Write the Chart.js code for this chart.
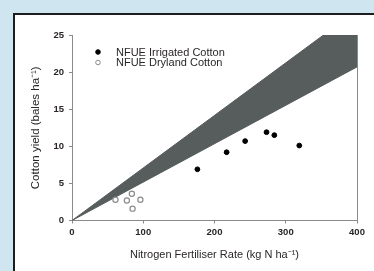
<!DOCTYPE html>
<html>
<head>
<meta charset="utf-8">
<script src="https://cdn.jsdelivr.net/npm/chart.js@4/dist/chart.umd.min.js"></script>
<style>
  body { margin: 0; background: #cfe6f1; width: 374px; height: 271px; overflow: hidden; position: relative; }
  .panel { position: absolute; left: 13px; top: 13px; width: 400px; height: 300px; background: #fff; border: 2px solid #1c1c1c; }
  #chart { position: absolute; left: 0; top: 0; }
</style>
</head>
<body>
<div class="panel"></div>
<canvas id="chart" width="374" height="271"></canvas>
<script>
// Chart data
const xTicks = [0, 100, 200, 300, 400];
const yTicks = [0, 5, 10, 15, 20, 25];

const irrigatedN = [176, 217, 243, 273, 284, 319];
const irrigatedYield = [6.9, 9.2, 10.7, 11.9, 11.5, 10.1];

const drylandN = [61, 77, 84, 85, 96];
const drylandYield = [2.8, 2.7, 3.6, 1.6, 2.8];

// NFUE band edges
const bandUpperN = [0, 353, 400];
const bandUpperYield = [0, 25, 25];
const bandLowerN = [0, 400];
const bandLowerYield = [0, 20.7];

const legendLabels = ['NFUE Irrigated Cotton', 'NFUE Dryland Cotton'];

const toPoints = (xs, ys) => xs.map((x, i) => ({ x: x, y: ys[i] }));

const FONT = "'Liberation Sans', Arial, sans-serif";
const AXIS_COLOR = '#8a8a8a';
const TEXT_COLOR = '#2a2626';

// legend drawn inside the plot, top left
const insideLegend = {
  id: 'insideLegend',
  afterDraw(chart) {
    const { ctx, chartArea } = chart;
    const x = chartArea.left + 26;
    const y = chartArea.top + 17;
    ctx.save();
    ctx.font = '11px ' + FONT;
    ctx.textBaseline = 'middle';
    legendLabels.forEach((label, i) => {
      const ds = chart.data.datasets[i + 2];
      const cy = y + i * 10.5;
      ctx.beginPath();
      ctx.arc(x, cy, 2.3, 0, Math.PI * 2);
      ctx.fillStyle = ds.backgroundColor;
      ctx.fill();
      ctx.lineWidth = 1;
      ctx.strokeStyle = ds.borderColor;
      ctx.stroke();
      ctx.fillStyle = TEXT_COLOR;
      ctx.fillText(label, x + 18, cy + 0.5);
    });
    ctx.restore();
  }
};

// right frame line
const rightFrame = {
  id: 'rightFrame',
  beforeDatasetsDraw(chart) {
    const { ctx, chartArea } = chart;
    ctx.save();
    ctx.strokeStyle = AXIS_COLOR;
    ctx.lineWidth = 1;
    ctx.beginPath();
    ctx.moveTo(chartArea.right + 0.5, chartArea.top);
    ctx.lineTo(chartArea.right + 0.5, chartArea.bottom);
    ctx.stroke();
    ctx.restore();
  }
};

new Chart(document.getElementById('chart'), {
  type: 'scatter',
  data: {
    datasets: [{
      type: 'line',
      data: toPoints(bandUpperN, bandUpperYield),
      borderColor: '#575c5c',
      backgroundColor: '#575c5c',
      borderWidth: 1,
      pointRadius: 0,
      fill: '+1',
      tension: 0,
      order: 3
    }, {
      type: 'line',
      data: toPoints(bandLowerN, bandLowerYield),
      borderColor: '#575c5c',
      borderWidth: 1,
      pointRadius: 0,
      fill: false,
      tension: 0,
      order: 3
    }, {
      label: legendLabels[0],
      data: toPoints(irrigatedN, irrigatedYield),
      backgroundColor: '#000',
      borderColor: '#000',
      borderWidth: 1,
      pointRadius: 2.4,
      order: 1
    }, {
      label: legendLabels[1],
      data: toPoints(drylandN, drylandYield),
      backgroundColor: '#fff',
      borderColor: '#8c8c8c',
      borderWidth: 1.2,
      pointRadius: 2.6,
      order: 1
    }]
  },
  options: {
    responsive: false,
    animation: false,
    events: [],
    layout: { padding: { left: 28, top: 35, right: 17, bottom: 0 } },
    plugins: {
      legend: { display: false },
      tooltip: { enabled: false }
    },
    scales: {
      x: {
        type: 'linear',
        min: 0,
        max: 400,
        afterBuildTicks: (s) => { s.ticks = xTicks.map(v => ({ value: v })); },
        afterFit: (s) => { s.height = 50.5; },
        grid: { display: true, drawOnChartArea: false, drawTicks: true, tickLength: 3, color: AXIS_COLOR },
        border: { display: true, color: AXIS_COLOR, width: 1 },
        ticks: { color: TEXT_COLOR, font: { family: FONT, size: 9.5, weight: 'bold' }, padding: 3, maxRotation: 0 },
        title: {
          display: true,
          text: 'Nitrogen Fertiliser Rate (kg N ha⁻¹)',
          color: TEXT_COLOR,
          font: { family: FONT, size: 11 },
          padding: { top: 0, bottom: 9 }
        }
      },
      y: {
        type: 'linear',
        min: 0,
        max: 25,
        afterBuildTicks: (s) => { s.ticks = yTicks.map(v => ({ value: v })); },
        afterFit: (s) => { s.width = 44; },
        grid: { display: true, drawOnChartArea: false, drawTicks: true, tickLength: 3, color: AXIS_COLOR },
        border: { display: true, color: AXIS_COLOR, width: 1 },
        ticks: { color: TEXT_COLOR, font: { family: FONT, size: 9.5, weight: 'bold' }, padding: 5 },
        title: {
          display: true,
          text: 'Cotton yield (bales ha⁻¹)',
          color: TEXT_COLOR,
          font: { family: FONT, size: 11.5 },
          padding: { top: 1, bottom: 0 }
        }
      }
    }
  },
  plugins: [rightFrame, insideLegend]
});
</script>
</body>
</html>
